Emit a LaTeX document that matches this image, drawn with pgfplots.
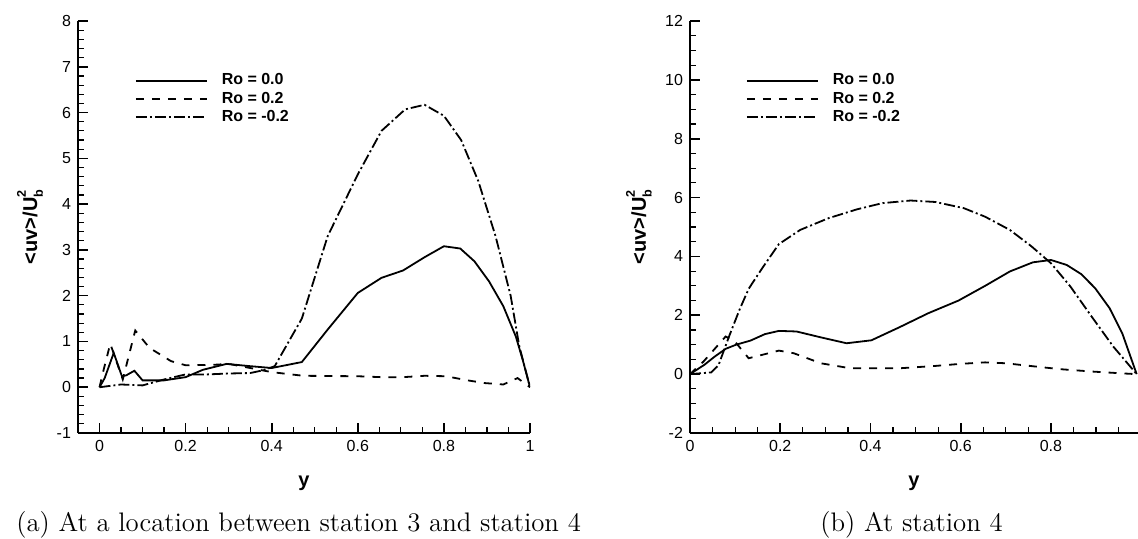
\documentclass[border=0pt]{standalone}
\usepackage{fontspec}
\usepackage{pgfplots}
\pgfplotsset{compat=1.18}
\newfontfamily\arial{Liberation Sans}

\newcommand{\uvlabel}{<uv>/U\rlap{\raisebox{1.05ex}{\fontsize{6.3}{6.3}\selectfont 2}}\raisebox{-0.55ex}{\fontsize{6.3}{6.3}\selectfont b}}

\pgfplotsset{
  tec/.style={
    scale only axis,
    height=206pt,
    axis x line*=bottom, axis y line*=left,
    axis line style={line width=1.2pt,-},
    tick align=inside,
    major tick length=5pt, minor tick length=3pt,
    every major tick/.style={black,line width=0.8pt},
    every minor tick/.style={black,line width=0.6pt},
    ticklabel style={font=\arial\fontsize{8}{9}\selectfont},
    /pgf/number format/assume math mode=true,
    label style={font=\arial\bfseries\fontsize{10}{11}\selectfont},
    x label style={at={(axis description cs:0.5,0)},anchor=center,yshift=-25pt},
    legend cell align=left,
    legend image code/.code={\draw[##1] (0pt,0pt) -- (35.5pt,0pt);},
    legend style={draw=none,fill=none,font=\arial\bfseries\fontsize{8}{9}\selectfont,
      inner sep=0pt,outer sep=0pt,
      row sep=2pt,column sep=7pt,nodes={inner sep=0pt}},
    every axis plot/.append style={line width=0.9pt,black},
  },
  ro0/.style={solid},
  ro2/.style={dash pattern=on 4pt off 4pt},
  rom/.style={dash pattern=on 5.5pt off 1.5pt on 1pt off 1.5pt},
}

\begin{document}
\begin{tikzpicture}
\useasboundingbox (0,0) rectangle (569pt,269pt);

\begin{axis}[tec,
  at={(39pt,52.5pt)}, anchor=south west, width=226pt,
  xmin=-0.05, xmax=1, ymin=-1, ymax=8,
  xtick={0,0.2,0.4,0.6,0.8,1}, minor xtick={0,0.05,...,1.01},
  ytick={-1,0,...,8}, minor ytick={-1,-0.8,...,8.01},
  xlabel={y}, ylabel={\uvlabel},
  y label style={at={(axis description cs:-0.106,0.5)},anchor=center},
  legend style={at={(rel axis cs:0.126,0.872)},anchor=north west},
]
\addplot[ro0] coordinates {
(0,0) (0.012,0.2) (0.033,0.75) (0.052,0.24) (0.062,0.26) (0.081,0.36) (0.1,0.15)
(0.15,0.15) (0.2,0.22) (0.24,0.38) (0.295,0.51) (0.35,0.46) (0.40,0.42)
(0.47,0.55) (0.53,1.26) (0.6,2.06) (0.655,2.39) (0.705,2.55) (0.755,2.84)
(0.80,3.08) (0.838,3.03) (0.871,2.75) (0.905,2.31) (0.938,1.77) (0.967,1.11)
(0.983,0.6) (1,0)
};
\addlegendentry{Ro = 0.0}
\addplot[ro2] coordinates {
(0,0) (0.01,0.4) (0.025,0.95) (0.054,0.17) (0.083,1.24) (0.116,0.86)
(0.166,0.57) (0.2,0.48) (0.265,0.49) (0.3,0.51) (0.35,0.42) (0.4,0.33)
(0.473,0.25) (0.6,0.24) (0.655,0.22) (0.705,0.22) (0.755,0.25) (0.805,0.24)
(0.855,0.15) (0.896,0.09) (0.938,0.06) (0.971,0.2) (1,0)
};
\addlegendentry{Ro = 0.2}
\addplot[rom] coordinates {
(0,0) (0.05,0.06) (0.1,0.04) (0.15,0.17) (0.2,0.28) (0.25,0.28) (0.3,0.30)
(0.35,0.31) (0.38,0.37) (0.407,0.46) (0.47,1.5) (0.53,3.3) (0.6,4.65)
(0.655,5.6) (0.71,6.07) (0.755,6.17) (0.8,5.93) (0.84,5.4) (0.88,4.5)
(0.92,3.3) (0.955,2.0) (0.975,0.9) (1,0)
};
\addlegendentry{Ro = -0.2}
\end{axis}

\begin{axis}[tec,
  at={(345pt,52.5pt)}, anchor=south west, width=224pt,
  xmin=0, xmax=0.993, ymin=-2, ymax=12,
  xtick={0,0.2,0.4,0.6,0.8}, minor xtick={0,0.05,...,0.99},
  ytick={-2,0,...,12}, minor ytick={-2,-1.5,...,12.01},
  xlabel={y}, ylabel={\uvlabel},
  y label style={at={(axis description cs:-0.114,0.5)},anchor=center},
  legend style={at={(rel axis cs:0.125,0.872)},anchor=north west},
]
\addplot[ro0] coordinates {
(0,0) (0.032,0.32) (0.055,0.6) (0.079,0.86) (0.102,1.0) (0.134,1.14)
(0.166,1.36) (0.197,1.47) (0.236,1.45) (0.29,1.25) (0.347,1.05) (0.402,1.15)
(0.465,1.6) (0.528,2.07) (0.595,2.5) (0.654,3.0) (0.709,3.49) (0.76,3.8)
(0.8,3.88) (0.835,3.71) (0.867,3.4) (0.898,2.92) (0.93,2.24) (0.958,1.39)
(0.99,0)
};
\addlegendentry{Ro = 0.0}
\addplot[ro2] coordinates {
(0,0) (0.03,0.43) (0.079,1.28) (0.1,1.1) (0.13,0.54) (0.197,0.8) (0.23,0.71)
(0.29,0.37) (0.355,0.2) (0.41,0.2) (0.465,0.2) (0.544,0.28) (0.6,0.35)
(0.654,0.4) (0.7,0.37) (0.765,0.26) (0.82,0.17) (0.89,0.09) (0.954,0.03)
(0.99,0)
};
\addlegendentry{Ro = 0.2}
\addplot[rom] coordinates {
(0,0) (0.047,0.06) (0.063,0.3) (0.087,1.3) (0.11,2.2) (0.13,2.9) (0.16,3.6)
(0.197,4.42) (0.244,4.9) (0.307,5.3) (0.37,5.6) (0.426,5.81) (0.489,5.9)
(0.544,5.85) (0.607,5.64) (0.654,5.35) (0.709,4.9) (0.757,4.34) (0.8,3.77)
(0.843,2.98) (0.89,1.96) (0.938,0.94) (0.99,0)
};
\addlegendentry{Ro = -0.2}
\end{axis}

\node[anchor=west,inner sep=0pt] at (8pt,6.5pt)
  {\fontsize{13.4}{16}\selectfont (a) At a location between station 3 and station 4};
\node[anchor=west,inner sep=0pt] at (410pt,6.5pt)
  {\fontsize{13.4}{16}\selectfont (b) At station 4};
\end{tikzpicture}
\end{document}
